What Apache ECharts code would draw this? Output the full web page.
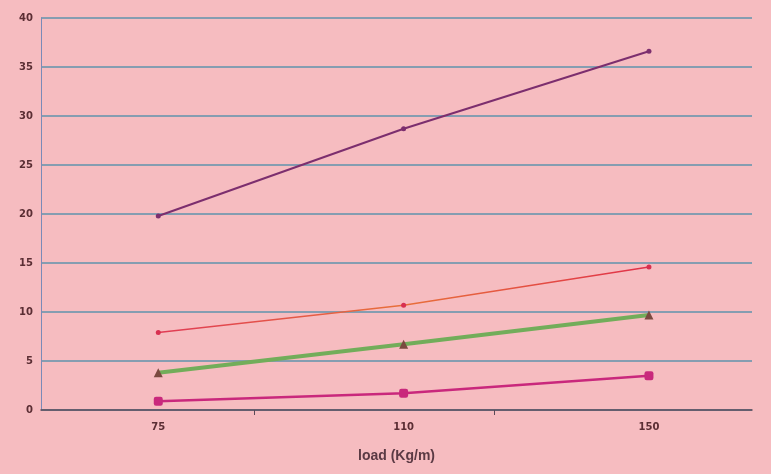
<!DOCTYPE html>
<html><head><meta charset="utf-8">
<script src="https://cdn.jsdelivr.net/npm/echarts@6/dist/echarts.min.js"></script>
<style>html,body{margin:0;padding:0;background:#f6bcc0;}#c{width:771px;height:474px;}</style>
</head><body><div id="c"></div>
<script>
const categories = ['75', '110', '150'];
const seriesA = [19.8, 28.7, 36.6];
const seriesB = [7.9, 10.7, 14.6];
const seriesC = [3.8, 6.7, 9.7];
const seriesD = [0.9, 1.7, 3.5];
const yTicks = [0, 5, 10, 15, 20, 25, 30, 35, 40];
const xName = 'load (Kg/m)';

const toPts = arr => arr.map((v, i) => [i, v]);
const chart = echarts.init(document.getElementById('c'));
chart.setOption({
  backgroundColor: '#f6bcc0',
  animation: false,
  grid: {left: 41, right: 19, top: 18, bottom: 64},
  xAxis: {
    type: 'value', min: -0.478, max: 2.42,
    name: xName, nameLocation: 'middle', nameGap: 39,
    nameTextStyle: {fontFamily: 'Liberation Sans', fontWeight: 'bold', fontSize: 14, color: '#5b3a44'},
    axisLine: {show: true, lineStyle: {color: '#5a4a58', width: 1.5}},
    axisTick: {show: true, customValues: [0.39, 1.37], length: 5, lineStyle: {color: '#5a4a58'}},
    axisLabel: {customValues: [0, 1, 2], formatter: v => categories[Math.round(v)], margin: 12,
      fontFamily: 'DejaVu Sans', fontWeight: 'bold', fontSize: 10, color: '#5b2e34'},
    splitLine: {show: false}
  },
  yAxis: {
    type: 'value', min: yTicks[0], max: yTicks[yTicks.length - 1], interval: 5,
    axisLine: {show: true, onZero: false, lineStyle: {color: '#7a8ab8', width: 1}},
    axisTick: {show: false},
    axisLabel: {fontFamily: 'DejaVu Sans', fontWeight: 'bold', fontSize: 10, color: '#5b2e34', margin: 8},
    splitLine: {show: true, lineStyle: {color: '#5f93ad', width: 1.5}}
  },
  series: [
    {type: 'line', data: toPts(seriesA), symbol: 'circle', symbolSize: 5,
      lineStyle: {color: '#7c2e6e', width: 2}, itemStyle: {color: '#7c2e6e'}},
    {type: 'line', data: toPts(seriesB), symbol: 'circle', symbolSize: 5,
      lineStyle: {width: 1.5, color: {type: 'linear', x: 0, y: 0, x2: 1, y2: 0,
        colorStops: [{offset: 0, color: '#e03a55'}, {offset: 0.5, color: '#e8703a'}, {offset: 1, color: '#e0304a'}]}},
      itemStyle: {color: '#d83050'}},
    {type: 'line', data: toPts(seriesC), symbol: 'triangle', symbolSize: 9,
      lineStyle: {color: '#72ad5a', width: 4}, itemStyle: {color: '#7a4a40'}},
    {type: 'line', data: toPts(seriesD), symbol: 'roundRect', symbolSize: 9,
      lineStyle: {color: '#c9287c', width: 2.5}, itemStyle: {color: '#c9287c'}}
  ]
});
</script></body></html>
